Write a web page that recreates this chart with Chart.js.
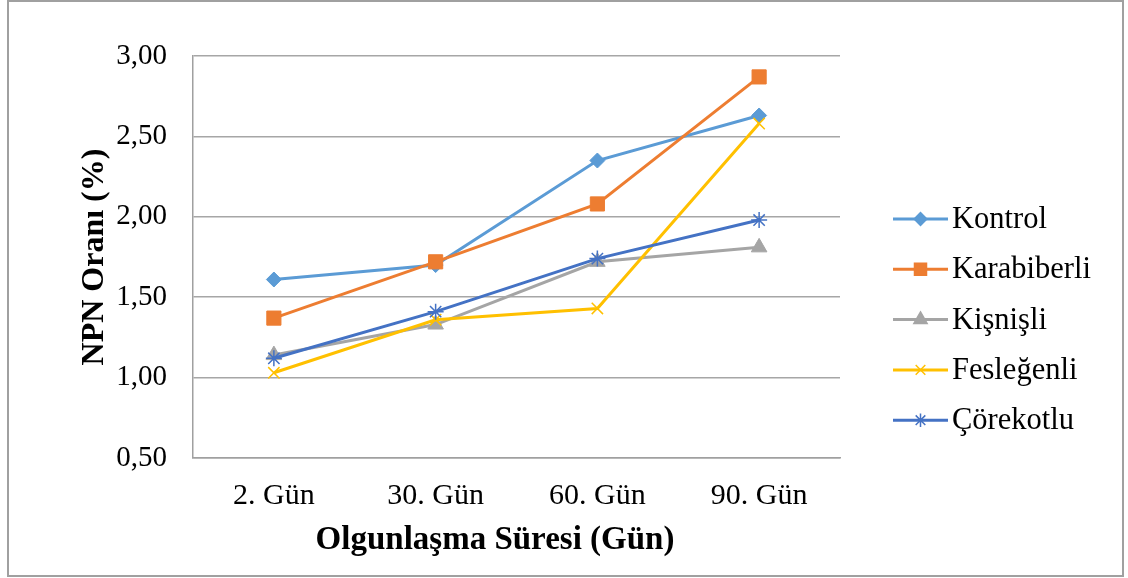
<!DOCTYPE html>
<html>
<head>
<meta charset="utf-8">
<script src="https://cdn.jsdelivr.net/npm/chart.js@4.4.1/dist/chart.umd.min.js"></script>
<style>
  html, body { margin: 0; padding: 0; background: #fff; }
  #wrap { position: absolute; left: 0; top: 0; width: 1128px; height: 578px; }
</style>
</head>
<body>
<div id="wrap"><canvas id="npnChart" width="1128" height="578"></canvas></div>
<script>
// Data
const gunler = ['2. Gün', '30. Gün', '60. Gün', '90. Gün'];
const kontrol = [1.61, 1.70, 2.35, 2.63];
const karabiberli = [1.37, 1.72, 2.08, 2.87];
const kisnisli = [1.14, 1.33, 1.72, 1.81];
const feslegenli = [1.03, 1.36, 1.43, 2.58];
const corekotlu = [1.12, 1.41, 1.74, 1.98];
const yTicks = [0.5, 1.0, 1.5, 2.0, 2.5, 3.0];

const seriesNames = ['Kontrol', 'Karabiberli', 'Kişnişli', 'Fesleğenli', 'Çörekotlu'];
const seriesData = [kontrol, karabiberli, kisnisli, feslegenli, corekotlu];
const seriesColors = ['#5B9BD5', '#ED7D31', '#A5A5A5', '#FFC000', '#4472C4'];
const seriesPoints = ['rectRot', 'rect', 'triangle', 'crossRot', 'star'];
const pointSizes = [7.5, 10, 9, 8, 8];

const xTitle = 'Olgunlaşma Süresi (Gün)';
const serif = "'Liberation Serif', 'Times New Roman', serif";

// Legend drawn by hand: line with marker in the middle, like the office chart
const sideLegend = {
    id: 'sideLegend',
    afterDraw(chart) {
        const ctx = chart.ctx;
        const x0 = 893, x1 = 948, textX = 952;
        chart.data.datasets.forEach((ds, i) => {
            const y = 219 + i * 50.3;
            ctx.save();
            ctx.strokeStyle = ds.borderColor;
            ctx.lineWidth = 3;
            ctx.beginPath();
            ctx.moveTo(x0, y);
            ctx.lineTo(x1, y);
            ctx.stroke();
            ctx.fillStyle = ds.borderColor;
            ctx.lineWidth = 1.5;
            Chart.helpers.drawPoint(ctx, {
                pointStyle: ds.pointStyle,
                radius: ds.pointRadius * 0.85,
                rotation: 0,
                borderWidth: 1.5
            }, (x0 + x1) / 2, y);
            ctx.fillStyle = '#000';
            ctx.font = '30.5px ' + serif;
            ctx.textAlign = 'left';
            ctx.textBaseline = 'middle';
            ctx.fillText(ds.label, textX, y + 1);
            ctx.restore();
        });
    }
};

// Gray frame around the whole picture and the x title (sits a bit left of centre)
const outerFrame = {
    id: 'outerFrame',
    afterDraw(chart) {
        const ctx = chart.ctx;
        ctx.save();
        ctx.strokeStyle = '#A0A0A0';
        ctx.lineWidth = 2;
        ctx.strokeRect(8, 1, 1115, 575);
        ctx.fillStyle = '#000';
        ctx.font = 'bold 33px ' + serif;
        ctx.textAlign = 'center';
        ctx.textBaseline = 'middle';
        ctx.fillText(xTitle, 495, 540);
        ctx.restore();
    }
};

const datasets = seriesNames.map((name, i) => ({
    label: name,
    data: seriesData[i],
    borderColor: seriesColors[i],
    backgroundColor: seriesColors[i],
    borderWidth: 3,
    pointStyle: seriesPoints[i],
    pointRadius: pointSizes[i],
    pointHoverRadius: pointSizes[i],
    pointBorderWidth: (seriesPoints[i] === 'crossRot' || seriesPoints[i] === 'star') ? 1.5 : 1,
    tension: 0,
    order: seriesNames.length - i
}));

const ctx = document.getElementById('npnChart').getContext('2d');
new Chart(ctx, {
    type: 'line',
    data: { labels: gunler, datasets: datasets },
    plugins: [sideLegend, outerFrame],
    options: {
        responsive: false,
        animation: false,
        layout: {
            padding: { left: 60, top: 56, right: 288, bottom: 20 }
        },
        plugins: {
            legend: { display: false },
            tooltip: { enabled: false }
        },
        scales: {
            x: {
                offset: true,
                afterFit: (s) => { s.height = 100; },
                grid: { display: false, drawTicks: false },
                border: { display: true, color: '#A0A0A0', width: 1.5 },
                ticks: {
                    color: '#000',
                    padding: 20,
                    font: { family: serif, size: 30 }
                },
                title: { display: false }
            },
            y: {
                min: 0.5,
                max: 3,
                afterFit: (s) => { s.width = 133; },
                afterBuildTicks: (s) => { s.ticks = yTicks.map(v => ({ value: v })); },
                grid: { color: '#A6A6A6', lineWidth: 1.5, drawTicks: false },
                border: { display: true, color: '#A0A0A0', width: 1.5 },
                ticks: {
                    color: '#000',
                    padding: 26,
                    font: { family: serif, size: 29 },
                    callback: (v) => Number(v).toFixed(2).replace('.', ',')
                },
                title: {
                    display: true,
                    text: 'NPN Oranı (%)',
                    color: '#000',
                    padding: { top: 16, bottom: 0 },
                    font: { family: serif, size: 32, weight: 'bold', lineHeight: 1.2 }
                }
            }
        }
    }
});
</script>
</body>
</html>
